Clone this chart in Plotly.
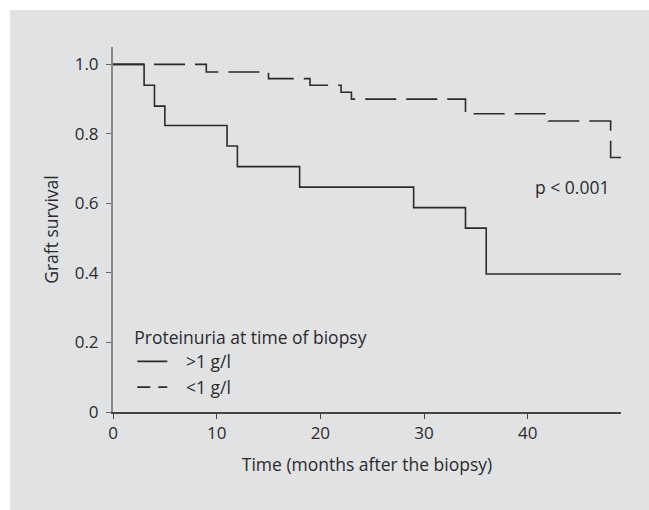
import plotly.graph_objects as go

# Kaplan-Meier graft survival by proteinuria group
months_high = [0, 3, 4, 5, 11, 12, 18, 29, 34, 36, 49]
survival_high = [1.0, 0.94, 0.88, 0.824, 0.765, 0.706, 0.647, 0.588, 0.529, 0.397, 0.397]

months_low = [0, 9, 15, 19, 22, 23, 34, 42, 48, 49]
survival_low = [1.0, 0.978, 0.959, 0.94, 0.92, 0.90, 0.858, 0.837, 0.732, 0.732]

group_names = [">1 g/l", "<1 g/l"]

x_ticks = [0, 10, 20, 30, 40]
y_ticks = [0, 0.2, 0.4, 0.6, 0.8, 1.0]
y_tick_text = ["0", "0.2", "0.4", "0.6", "0.8", "1.0"]

FONT = "Open Sans"
BG = "#e1e2e4"
INK = "#2b2b2b"
TXT = 17.5

fig = go.Figure()
# survival curves (kept out of the legend; the legend uses its own samples)
fig.add_trace(go.Scatter(
    x=months_high, y=survival_high, mode="lines", line_shape="hv",
    line=dict(color=INK, width=1.6), showlegend=False,
))
fig.add_trace(go.Scatter(
    x=months_low, y=survival_low, mode="lines", line_shape="hv",
    line=dict(color=INK, width=1.6, dash="31px,10px"), showlegend=False,
))
# legend samples with a shorter dash so the pattern shows in the key
fig.add_trace(go.Scatter(
    x=[None], y=[None], mode="lines", name="   " + group_names[0],
    line=dict(color=INK, width=1.6),
))
fig.add_trace(go.Scatter(
    x=[None], y=[None], mode="lines", name="   " + group_names[1],
    line=dict(color=INK, width=1.6, dash="13px,8px"),
))

fig.add_annotation(
    x=44.3, y=0.647, xref="x", yref="y", text="p < 0.001", showarrow=False,
    font=dict(family=FONT, size=TXT, color=INK),
)

# thin white frame along the top and left edges of the grey panel
fig.add_shape(
    type="rect", xref="paper", yref="paper",
    x0=-0.5, x1=1.5, y0=1 + 37 / 365, y1=1.5,
    fillcolor="white", line=dict(width=0), layer="below",
)
fig.add_shape(
    type="rect", xref="paper", yref="paper",
    x0=-0.5, x1=-103 / 508, y0=-0.5, y1=1.5,
    fillcolor="white", line=dict(width=0), layer="below",
)

fig.update_layout(
    width=649, height=510,
    margin=dict(l=113, r=28, t=47, b=98),
    paper_bgcolor=BG, plot_bgcolor=BG,
    font=dict(family=FONT, size=TXT, color=INK),
    showlegend=True,
    legend=dict(
        x=0.038, y=0.25, xanchor="left", yanchor="top",
        bgcolor="rgba(0,0,0,0)",
        title=dict(text="Proteinuria at time of biopsy", font=dict(size=TXT)),
        font=dict(size=TXT), tracegroupgap=0,
    ),
    xaxis=dict(
        range=[0, 49], tickvals=x_ticks, showgrid=False, zeroline=False,
        showline=True, linecolor="#444", linewidth=1.5,
        ticks="outside", ticklen=5, tickcolor="#444",
        tickfont=dict(size=17),
        title=dict(text="Time (months after the biopsy)", standoff=16,
                   font=dict(size=TXT)),
    ),
    yaxis=dict(
        range=[0, 1.05], tickvals=y_ticks, ticktext=y_tick_text,
        showgrid=False, zeroline=False,
        showline=True, linecolor="#888", linewidth=2,
        ticks="outside", ticklen=5, tickcolor="#666",
        tickfont=dict(size=17), ticklabelstandoff=4,
        title=dict(text="Graft survival", standoff=12, font=dict(size=TXT)),
    ),
)

fig.write_html("out.html")
